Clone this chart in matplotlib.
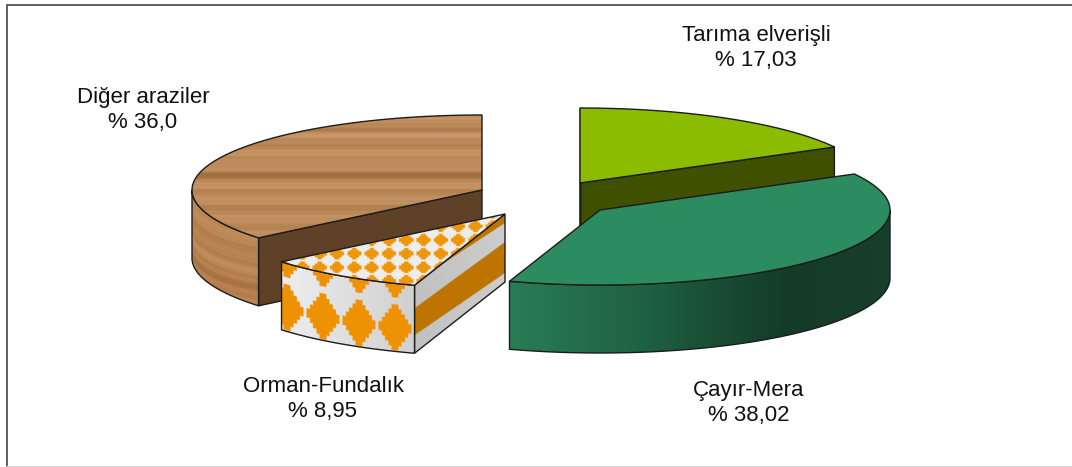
import numpy as np
import matplotlib
matplotlib.use("Agg")
import matplotlib.pyplot as plt
from matplotlib.patches import Polygon

plt.rcParams['font.family'] = ['Liberation Sans', 'DejaVu Sans']

# data
names = ["Tarıma elverişli", "Çayır-Mera", "Orman-Fundalık", "Diğer araziler"]
values = [17.03, 38.02, 8.95, 36.0]
value_labels = ["17,03", "38,02", "8,95", "36,0"]

# layout, in pixels of the 1072x467 picture
W, H = 1072, 467
RX, RY, DEPTH = 290, 75, 68
centers = [(580, 183), (600, 210), (505, 214), (482, 190)]
label_pos = [(756, 48), (749, 403), (323, 399), (143, 110)]
EDGE = "#1c1c1c"

edges = np.concatenate([[0], np.cumsum(values)]) / np.sum(values) * 360


def arc(c, t0, t1, n=120):
    th = np.radians(np.linspace(t0, t1, n))
    return np.column_stack([c[0] + RX * np.sin(th), c[1] - RY * np.cos(th)])


def rim_y(c, xs):
    # front rim of the ellipse
    return c[1] + RY * np.sqrt(np.clip(1 - ((xs - c[0]) / RX) ** 2, 0, 1))


def top_poly(c, t0, t1):
    return np.vstack([[c], arc(c, t0, t1)])


def wall_poly(c, t0, t1):
    a = arc(c, t0, t1)
    return np.vstack([a, (a + [0, DEPTH])[::-1]])


def face_poly(c, t):
    p = arc(c, t, t, 1)[0]
    return np.array([c, p, p + [0, DEPTH], np.array(c) + [0, DEPTH]])


def draw(ax, pts, color, z, edge=True):
    ax.add_patch(Polygon(pts, closed=True, fc=color, ec=EDGE if edge else "none", lw=1.0, zorder=z, joinstyle="round"))


def textured(ax, pts, func, z):
    # fills the polygon with an image made by func(X, Y), outline on top
    x0, y0 = np.floor(pts.min(axis=0)).astype(int) - 1
    x1, y1 = np.ceil(pts.max(axis=0)).astype(int) + 1
    X, Y = np.meshgrid(np.arange(x0, x1, 0.5) + 0.25, np.arange(y0, y1, 0.5) + 0.25)
    im = ax.imshow(np.clip(func(X, Y), 0, 255) / 255, extent=(x0, x1, y1, y0), aspect="auto",
                   interpolation="bilinear", zorder=z)
    clip = Polygon(pts, closed=True, transform=ax.transData)
    im.set_clip_path(clip)
    ax.add_patch(Polygon(pts, closed=True, fc="none", ec=EDGE, lw=1.0, zorder=z + 0.1))


def grain(y):
    # fine streaks of the wood, frequencies picked so they do not line up
    return 2.5 * np.sin(y * 2.93) + 2.5 * np.sin(y * 4.71 + 1) + 5 * np.sin(y * 0.37 + 2) + 4 * np.sin(y * 1.13 + np.sin(y * 0.21) * 3)


def wood_top(X, Y):
    g = grain(Y) + 0 * X
    for yb, amp, w in [(130, -16, 2.5), (147, -9, 3), (175, -28, 4), (190, -9, 2), (207, -14, 3), (224, -9, 3)]:
        g = g + amp * np.exp(-((Y - yb) / w) ** 2)
    return np.dstack([192 + g, 142 + g * 1.05, 94 + g * 1.1])


def wood_side(X, Y):
    c = centers[3]
    v = Y - rim_y(c, X) + (X - 190) * 0.15
    g = grain(v * 1.1) * 0.8 + 5 * np.sin(v * 0.13 + 1)
    g = g - 26 * np.exp(-((v - 60) / 4) ** 2) - 12 * np.exp(-((v - 50) / 2.5) ** 2)
    return np.dstack([186 + g, 134 + g * 1.05, 84 + g * 1.1])


def stepped(dx, dy, n, sx, sy):
    # diamond built from whole cells, blunt at the tips
    return np.abs(np.floor(dx / sx) + 0.5) + np.abs(np.floor(dy / sy) + 0.5) <= n


def lattice_top(X, Y):
    px, py = 17.3, 13.7
    dx = (X - 354.3 + px / 2) % px - px / 2
    dy = (Y - 253.7 + py / 2) % py - py / 2
    m = stepped(dx, dy, 3, 2.35, 1.95)
    img = np.dstack([np.full(X.shape, 237.0), np.full(X.shape, 237.0), np.full(X.shape, 237.0)])
    img[m] = (240, 150, 8)
    return img


def lattice_side(X, Y):
    c = centers[2]
    v = Y - rim_y(c, X)
    pu, pv = 36.0, 53.0
    dx = (X - 287 + pu / 2) % pu - pu / 2
    dy = (v - 44 + pv / 2) % pv - pv / 2
    m = stepped(dx, dy, 5, 3.3, 4.6)
    shade = 238 - np.clip((X - 281) / 134, 0, 1) * 30
    img = np.dstack([shade, shade, shade])
    img[m] = (238, 146, 4)
    return img


def stripes_face(X, Y):
    c = centers[2]
    p = arc(c, edges[2], edges[2], 1)[0]
    t = (X - p[0]) / (c[0] - p[0])
    v = Y - (p[1] + (c[1] - p[1]) * t)
    b0, b1, b2 = -3 + 12 * t, 23 + 5 * t, 50 + 9 * t
    gray = 205 - 12 * (1 - t)
    img = np.dstack([gray, gray, gray])
    img[v < b0] = (190, 116, 0)
    img[(v >= b1) & (v < b2)] = (190, 116, 0)
    return img


def green_side(X, Y):
    xs = [505, 640, 790, 895]
    return np.dstack([np.interp(X, xs, [42, 30, 20, 24]),
                      np.interp(X, xs, [126, 98, 58, 62]),
                      np.interp(X, xs, [86, 66, 40, 44])])


fig = plt.figure(figsize=(W / 100, H / 100), dpi=100)
ax = fig.add_axes([0, 0, 1, 1])

# Tarima elverisli, back slice
c = centers[0]
draw(ax, face_poly(c, edges[1]), "#3f5000", 1)
draw(ax, face_poly(c, edges[0]), "#3f5000", 1)
draw(ax, top_poly(c, edges[0], edges[1]), "#8cbc00", 2)

# Diger araziler
c = centers[3]
draw(ax, face_poly(c, edges[3]), "#5e4126", 3)
textured(ax, wall_poly(c, edges[3], 270), wood_side, 3.2)
textured(ax, top_poly(c, edges[3], edges[4]), wood_top, 3.4)

# Orman-Fundalik
c = centers[2]
textured(ax, face_poly(c, edges[2]), stripes_face, 4)
textured(ax, wall_poly(c, edges[2], edges[3]), lattice_side, 4.2)
textured(ax, top_poly(c, edges[2], edges[3]), lattice_top, 4.4)

# Cayir-Mera
c = centers[1]
textured(ax, wall_poly(c, 90, edges[2]), green_side, 5)
draw(ax, top_poly(c, edges[1], edges[2]), "#2c8c5f", 5.2)

for name, lab, (x, y) in zip(names, value_labels, label_pos):
    ax.text(x, y, name + "\n% " + lab, ha="center", va="center", fontsize=16, color="#111111",
            linespacing=1.2, zorder=10)

# chart frame
ax.plot([7, 7, W], [466, 5, 5], color="#444444", lw=1.2, zorder=0, solid_joinstyle="miter")
ax.plot([7, W], [466, 466], color="#d8d8d8", lw=1.0, zorder=0)

ax.set_xlim(0, W)
ax.set_ylim(H, 0)
ax.axis("off")
fig.savefig("out.png", dpi=100, facecolor="white")
